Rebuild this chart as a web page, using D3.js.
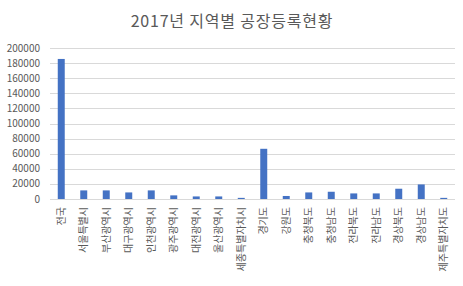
<!DOCTYPE html>
<html>
<head>
<meta charset="utf-8">
<script src="https://cdn.jsdelivr.net/npm/d3@7"></script>
<style>
    body { margin: 0; background: #fff; }
    svg { display: block; font-family: 'Noto Sans CJK KR', 'Noto Sans', sans-serif; }
</style>
</head>
<body>
<svg id="chart" width="463" height="286"></svg>
<script>
const title = '2017년 지역별 공장등록현황'

const regions = ['전국', '서울특별시', '부산광역시', '대구광역시', '인천광역시', '광주광역시',
    '대전광역시', '울산광역시', '세종특별자치시', '경기도', '강원도', '충청북도', '충청남도',
    '전라북도', '전라남도', '경상북도', '경상남도', '제주특별자치도']

const factories = [185500, 11400, 11400, 8700, 11400, 4800, 3400, 3400, 1500, 66500,
    4000, 8700, 9600, 7400, 7400, 13600, 19300, 1500]

const yTicks = [0, 20000, 40000, 60000, 80000, 100000, 120000, 140000, 160000, 180000, 200000]

const margin = { left: 50, right: 8, top: 48, bottom: 87 }
const width = 463, height = 286

const svg = d3.select('#chart')

const x = d3.scaleBand()
    .domain(regions)
    .range([margin.left, width - margin.right])
    .paddingInner(0.69)
    .paddingOuter(0.345)

const y = d3.scaleLinear()
    .domain([0, 200000])
    .range([height - margin.bottom, margin.top])

// title
svg.append('text')
    .attr('x', 232)
    .attr('y', 27)
    .attr('text-anchor', 'middle')
    .attr('font-size', '16px')
    .attr('letter-spacing', '0.8px')
    .attr('fill', '#595959')
    .text(title)

// gridlines
svg.append('g')
    .selectAll('line')
    .data(yTicks)
    .join('line')
    .attr('x1', margin.left)
    .attr('x2', width - margin.right)
    .attr('y1', d => Math.round(y(d)) + 0.5)
    .attr('y2', d => Math.round(y(d)) + 0.5)
    .attr('stroke', '#d9d9d9')
    .attr('stroke-width', 1)

// y tick labels
svg.append('g')
    .selectAll('text')
    .data(yTicks)
    .join('text')
    .attr('x', 40)
    .attr('y', d => y(d))
    .attr('dy', '0.35em')
    .attr('text-anchor', 'end')
    .attr('font-size', '10px')
    .attr('fill', '#595959')
    .text(d => d)

// bars
svg.append('g')
    .selectAll('rect')
    .data(factories)
    .join('rect')
    .attr('x', (d, i) => x(regions[i]))
    .attr('width', x.bandwidth())
    .attr('y', d => y(d))
    .attr('height', d => y(0) - y(d))
    .attr('fill', '#4472c4')

// category labels, rotated
svg.append('g')
    .selectAll('text')
    .data(regions)
    .join('text')
    .attr('transform', d => `translate(${x(d) + x.bandwidth() / 2}, 207) rotate(-90)`)
    .attr('dy', '0.35em')
    .attr('text-anchor', 'end')
    .attr('font-size', '10px')
    .attr('fill', '#595959')
    .text(d => d)
</script>
</body>
</html>
